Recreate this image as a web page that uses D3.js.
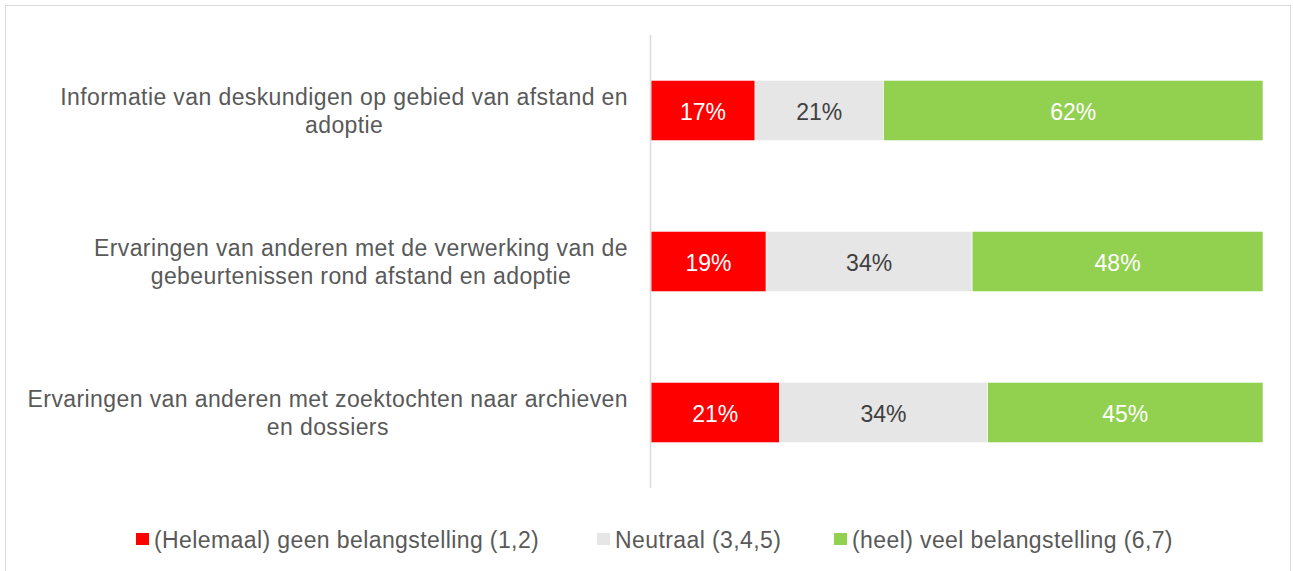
<!DOCTYPE html>
<html>
<head>
<meta charset="utf-8">
<script src="https://cdn.jsdelivr.net/npm/d3@7"></script>
<style>
  html, body { margin: 0; padding: 0; background: #fff; }
  svg { display: block; font-family: "Liberation Sans", Arial, sans-serif; }
</style>
</head>
<body>
<svg id="chart" width="1293" height="571"></svg>
<script>
  // categories, top to bottom (lines as wrapped in the original)
  const categories = [
    ['Informatie van deskundigen op gebied van afstand en', 'adoptie'],
    ['Ervaringen van anderen met de verwerking van de', 'gebeurtenissen rond afstand en adoptie'],
    ['Ervaringen van anderen met zoektochten naar archieven', 'en dossiers'],
  ];
  const seriesNames = [
    '(Helemaal) geen belangstelling (1,2)',
    'Neutraal (3,4,5)',
    '(heel) veel belangstelling (6,7)',
  ];
  // percentages per category
  const geen = [17, 19, 21];
  const neutraal = [21, 34, 34];
  const veel = [62, 48, 45];

  const colors = ['#ff0000', '#e6e6e6', '#92d050'];
  const labelColors = ['#ffffff', '#404040', '#ffffff'];

  const svg = d3.select('#chart');

  // outer frame
  svg.append('rect')
    .attr('x', 5.5).attr('y', 5.5)
    .attr('width', 1285).attr('height', 600)
    .attr('fill', 'none')
    .attr('stroke', '#d9d9d9');

  const rows = categories.map((c, i) => {
    const vals = [geen[i], neutraal[i], veel[i]];
    const total = d3.sum(vals);
    let acc = 0;
    const segs = vals.map((v, k) => {
      const s = { k, v, i, x0: acc / total, x1: (acc + v) / total };
      acc += v;
      return s;
    });
    return { i, lines: c, segs };
  });

  const x = d3.scaleLinear().domain([0, 1]).range([651, 1263]);
  const y = d3.scaleBand()
    .domain(d3.range(categories.length))
    .range([35, 488])
    .paddingInner(0.6)
    .paddingOuter(0.3);

  const rowG = svg.append('g')
    .selectAll('g')
    .data(rows)
    .join('g');

  rowG.selectAll('rect')
    .data((d) => d.segs)
    .join('rect')
    .attr('x', (s) => x(s.x0))
    .attr('width', (s) => x(s.x1) - x(s.x0))
    .attr('y', (s) => y(s.i))
    .attr('height', y.bandwidth())
    .attr('fill', (s) => colors[s.k])
    .attr('stroke', '#ffffff')
    .attr('stroke-width', 0.6);

  rowG.selectAll('text.val')
    .data((d) => d.segs)
    .join('text')
    .attr('class', 'val')
    .attr('x', (s) => (x(s.x0) + x(s.x1)) / 2)
    .attr('y', (s) => y(s.i) + y.bandwidth() / 2 + 9)
    .attr('text-anchor', 'middle')
    .attr('font-size', 23)
    .attr('fill', (s) => labelColors[s.k])
    .text((s) => s.v + '%');

  // vertical axis line
  svg.append('line')
    .attr('x1', 650.5).attr('x2', 650.5)
    .attr('y1', 35).attr('y2', 488)
    .attr('stroke', '#d9d9d9')
    .attr('stroke-width', 1.5);

  // category labels: block right-aligned, lines centered inside the block
  const labelRight = 628;
  rows.forEach((r) => {
    const g = svg.append('g');
    const cy = y(r.i) + y.bandwidth() / 2;
    const lineH = 28;
    const texts = r.lines.map((line, j) => g.append('text')
      .attr('font-size', 23)
      .attr('letter-spacing', 0.4)
      .attr('fill', '#595959')
      .attr('text-anchor', 'middle')
      .attr('y', cy - ((r.lines.length - 1) * lineH) / 2 + j * lineH + 8)
      .text(line));
    const maxW = d3.max(texts, (t) => t.node().getComputedTextLength());
    texts.forEach((t) => t.attr('x', labelRight - maxW / 2));
  });

  // legend
  const legendX = [136, 597, 834];
  const legend = svg.append('g')
    .selectAll('g')
    .data(seriesNames)
    .join('g')
    .attr('transform', (d, k) => `translate(${legendX[k]},539)`);
  legend.append('rect')
    .attr('x', 0).attr('y', -6)
    .attr('width', 13).attr('height', 12)
    .attr('fill', (d, k) => colors[k]);
  legend.append('text')
    .attr('x', 18).attr('y', 9)
    .attr('font-size', 23)
    .attr('letter-spacing', 0.4)
    .attr('fill', '#595959')
    .text((d) => d);
</script>
</body>
</html>
